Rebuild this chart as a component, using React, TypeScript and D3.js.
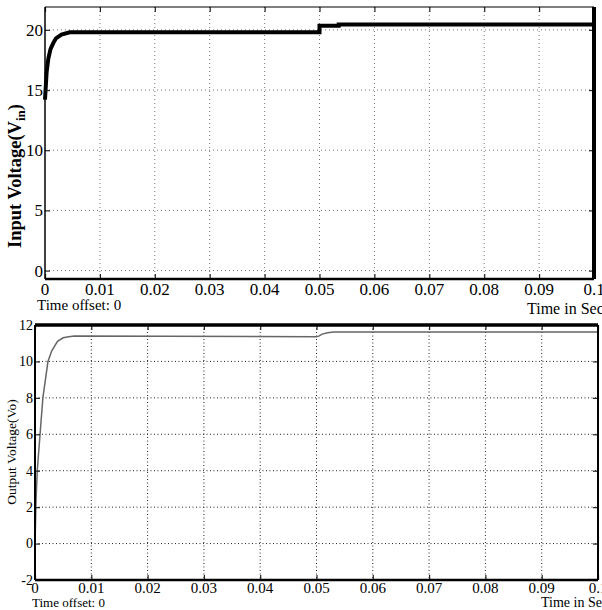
import React, {useEffect, useRef} from 'react';
import * as d3 from 'd3';

// input voltage trace (s, V)
const inTime = [0, 0.0003, 0.0006, 0.001, 0.0015, 0.002, 0.003, 0.0045, 0.05, 0.05, 0.0535, 0.0535, 0.1]
const inVolt = [14.2, 16.5, 17.6, 18.4, 18.9, 19.3, 19.6, 19.8, 19.8, 20.35, 20.35, 20.45, 20.45]

// output voltage trace (s, V)
const outTime = [0, 0.0002, 0.0004, 0.0009, 0.0014, 0.0023, 0.003, 0.004, 0.005, 0.006, 0.007, 0.05, 0.0505, 0.051, 0.052, 0.053, 0.1]
const outVolt = [0, 2.5, 4, 6, 8, 10, 10.6, 11.1, 11.3, 11.35, 11.4, 11.35, 11.4, 11.5, 11.58, 11.62, 11.62]

const timeTicks = [0, 0.01, 0.02, 0.03, 0.04, 0.05, 0.06, 0.07, 0.08, 0.09, 0.1]
const timeLabels = ['0', '0.01', '0.02', '0.03', '0.04', '0.05', '0.06', '0.07', '0.08', '0.09', '0.1']
const inTicks = [0, 5, 10, 15, 20]
const outTicks = [-2, 0, 2, 4, 6, 8, 10, 12]

const font = '"Liberation Serif", "Times New Roman", serif'

const drawPanel = (g, p) => {
    const x = d3.scaleLinear().domain([0, 0.1]).range([p.left, p.right])
    const y = d3.scaleLinear().domain(p.yDomain).range([p.bottom, p.top])

    // grid
    g.append('g').selectAll('line')
        .data(p.yTicks)
        .join('line')
        .attr('x1', p.left).attr('x2', p.right)
        .attr('y1', d => y(d)).attr('y2', d => y(d))
        .attr('stroke', p.gridColor).attr('stroke-width', 1)
        .attr('stroke-dasharray', p.gridDash)
    g.append('g').selectAll('line')
        .data(timeTicks.slice(1, -1))
        .join('line')
        .attr('x1', d => x(d)).attr('x2', d => x(d))
        .attr('y1', p.top).attr('y2', p.bottom)
        .attr('stroke', p.gridColor).attr('stroke-width', 1)
        .attr('stroke-dasharray', p.gridDash)

    // data
    const line = d3.line()
        .x((d, i) => x(p.t[i]))
        .y(d => y(d))
    g.append('path')
        .attr('d', line(p.v))
        .attr('fill', 'none')
        .attr('stroke', p.lineColor)
        .attr('stroke-width', p.lineWidth)

    // inward tick marks
    const xb = g.append('g').attr('transform', `translate(0,${p.bottom})`)
        .call(d3.axisBottom(x).tickValues(timeTicks).tickSize(-5).tickFormat(''))
    const xt = g.append('g').attr('transform', `translate(0,${p.top})`)
        .call(d3.axisTop(x).tickValues(timeTicks).tickSize(-5).tickFormat(''))
    const yl = g.append('g').attr('transform', `translate(${p.left},0)`)
        .call(d3.axisLeft(y).tickValues(p.yTicks).tickSize(-5).tickFormat(''))
    const yr = g.append('g').attr('transform', `translate(${p.right},0)`)
        .call(d3.axisRight(y).tickValues(p.yTicks).tickSize(-5).tickFormat(''))
    ;[xb, xt, yl, yr].forEach(a => {
        a.select('.domain').remove()
        a.selectAll('line').attr('stroke', '#222').attr('stroke-width', 1.2)
    })

    // frame
    const edge = (x1, y1, x2, y2, w) => g.append('line')
        .attr('x1', x1).attr('y1', y1).attr('x2', x2).attr('y2', y2)
        .attr('stroke', '#000').attr('stroke-width', w)
    edge(p.left, p.top, p.right, p.top, p.frame.top)
    edge(p.left, p.bottom, p.right, p.bottom, p.frame.bottom)
    edge(p.left, p.top, p.left, p.bottom, p.frame.left)
    edge(p.right, p.top, p.right, p.bottom, p.frame.right)

    // tick labels
    g.append('g').selectAll('text')
        .data(timeTicks)
        .join('text')
        .attr('x', d => x(d))
        .attr('y', p.xLabelY)
        .attr('text-anchor', 'middle')
        .attr('font-size', p.xLabelSize)
        .attr('font-family', font)
        .text((d, i) => timeLabels[i])
    g.append('g').selectAll('text')
        .data(p.yTicks)
        .join('text')
        .attr('x', p.left - 2)
        .attr('y', d => y(d))
        .attr('dy', '0.35em')
        .attr('text-anchor', 'end')
        .attr('font-size', p.yLabelSize)
        .attr('font-family', font)
        .text(d => d)

    g.append('text')
        .attr('x', p.offsetX).attr('y', p.offsetY)
        .attr('font-size', p.noteSize).attr('font-family', font)
        .text('Time offset: 0')
    g.append('text')
        .attr('x', p.secX).attr('y', p.secY)
        .attr('font-size', p.secSize).attr('font-family', font)
        .text('Time in Sec')
}

const App = () => {
    const svgRef = useRef(null)

    useEffect(() => {
        const svg = d3.select(svgRef.current)
        svg.selectAll('*').remove()

        const top = svg.append('g')
        drawPanel(top, {
            left: 45, right: 594, top: 7, bottom: 279,
            yDomain: [-0.7, 21.9], yTicks: inTicks,
            t: inTime, v: inVolt,
            lineColor: '#000', lineWidth: 4,
            gridColor: '#777', gridDash: '1,3',
            frame: {top: 1.2, bottom: 2.5, left: 1.5, right: 4},
            xLabelY: 295, xLabelSize: 17, yLabelSize: 17,
            offsetX: 37, offsetY: 310, noteSize: 15,
            secX: 527, secY: 314, secSize: 16
        })
        const yt = top.append('text')
            .attr('transform', 'translate(21,176) rotate(-90)')
            .attr('text-anchor', 'middle')
            .attr('font-size', 18.5)
            .attr('font-weight', 'bold')
            .attr('font-family', font)
        yt.append('tspan').text('Input Voltage(V')
        yt.append('tspan').attr('font-size', 13).attr('dy', 4).text('in')
        yt.append('tspan').attr('dy', -4).text(')')

        const bottom = svg.append('g')
        drawPanel(bottom, {
            left: 35, right: 598, top: 325, bottom: 580,
            yDomain: [-2, 12], yTicks: outTicks,
            t: outTime, v: outVolt,
            lineColor: '#666', lineWidth: 1.5,
            gridColor: '#222', gridDash: '1,2.5',
            frame: {top: 3.5, bottom: 2.5, left: 2, right: 2},
            xLabelY: 593, xLabelSize: 15, yLabelSize: 14,
            offsetX: 32, offsetY: 607, noteSize: 13,
            secX: 541, secY: 607, secSize: 14
        })
        bottom.append('text')
            .attr('transform', 'translate(16,452) rotate(-90)')
            .attr('text-anchor', 'middle')
            .attr('font-size', 13.5)
            .attr('font-family', font)
            .text('Output Voltage(Vo)')
    }, [])

    return (
        <svg ref={svgRef} width={602} height={610}
            style={{position: 'absolute', left: 0, top: 0, background: '#fff'}} />
    )
}

export default App
